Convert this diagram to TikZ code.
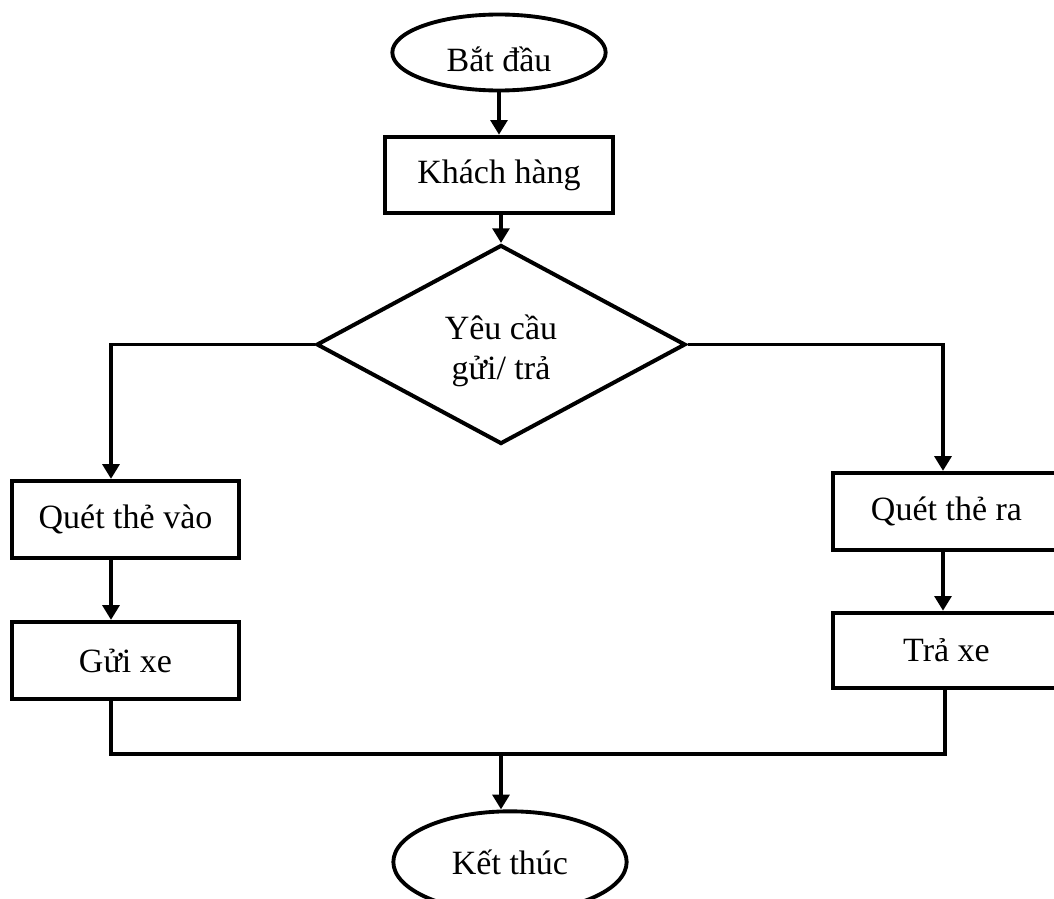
\documentclass[tikz,border=0pt]{standalone}
\usepackage{fontspec}
\setmainfont{Liberation Serif}
\usetikzlibrary{shapes.geometric,arrows.meta}
\begin{document}
\begin{tikzpicture}[x=0.75pt,y=-0.75pt,
  every node/.style={font=\fontsize{25.5}{30}\selectfont, inner sep=0pt},
  boxnode/.style={draw, line width=3.4pt, rectangle, minimum width=170.25pt, minimum height=57.5pt},
  termnode/.style={draw, line width=2.9pt, ellipse},
  decnode/.style={draw, line width=3pt, diamond, minimum width=276.75pt, minimum height=149.25pt},
  conn/.style={line width=2.9pt},
  arr/.style={line width=2.9pt, -{Triangle[length=11pt,width=12.5pt]}}]
\useasboundingbox (0,0) rectangle (1054,899);
\node[termnode, minimum width=160pt, minimum height=57pt] (start) at (499,52.5) {\raisebox{-5pt}[\height][\depth]{Bắt đầu}};
\node[boxnode, minimum width=171pt, minimum height=57pt] (khach) at (499,175) {Khách hàng};
\node[decnode] (dec) at (501,344.5) {\raisebox{-5pt}[\height][\depth]{\begin{tabular}{@{}c@{}}Yêu cầu\\gửi/ trả\end{tabular}}};
\node[boxnode] (qv) at (125.5,519.5) {Quét thẻ vào};
\node[boxnode] (gx) at (125.5,660.5) {Gửi xe};
\node[boxnode] (qr) at (946.5,511.5) {Quét thẻ ra};
\node[boxnode, minimum height=56.25pt] (tx) at (946.5,650.5) {Trả xe};
\node[termnode, minimum width=175pt, minimum height=76pt] (end) at (510,862) {Kết thúc};
\coordinate (cl) at (111,343);
\coordinate (cr) at (943,343);
\coordinate (bl) at (111,754);
\coordinate (br) at (945,754);
\coordinate (bm) at (501,754);
\draw[arr] (start.south) -- (khach.north);
\draw[arr] (khach.south -| dec.north) -- (dec.north);
\draw[arr] (dec.west) -| (cl |- qv.north);
\draw[arr] (dec.east) -| (cr |- qr.north);
\draw[arr] (qv.south -| cl) -- (cl |- gx.north);
\draw[arr] (qr.south -| cr) -- (cr |- tx.north);
\draw[conn] (gx.south -| bl) -- (bl) -- (br) -- (br |- tx.south);
\draw[arr] (bm) -- (bm |- end.north);
\end{tikzpicture}
\end{document}
